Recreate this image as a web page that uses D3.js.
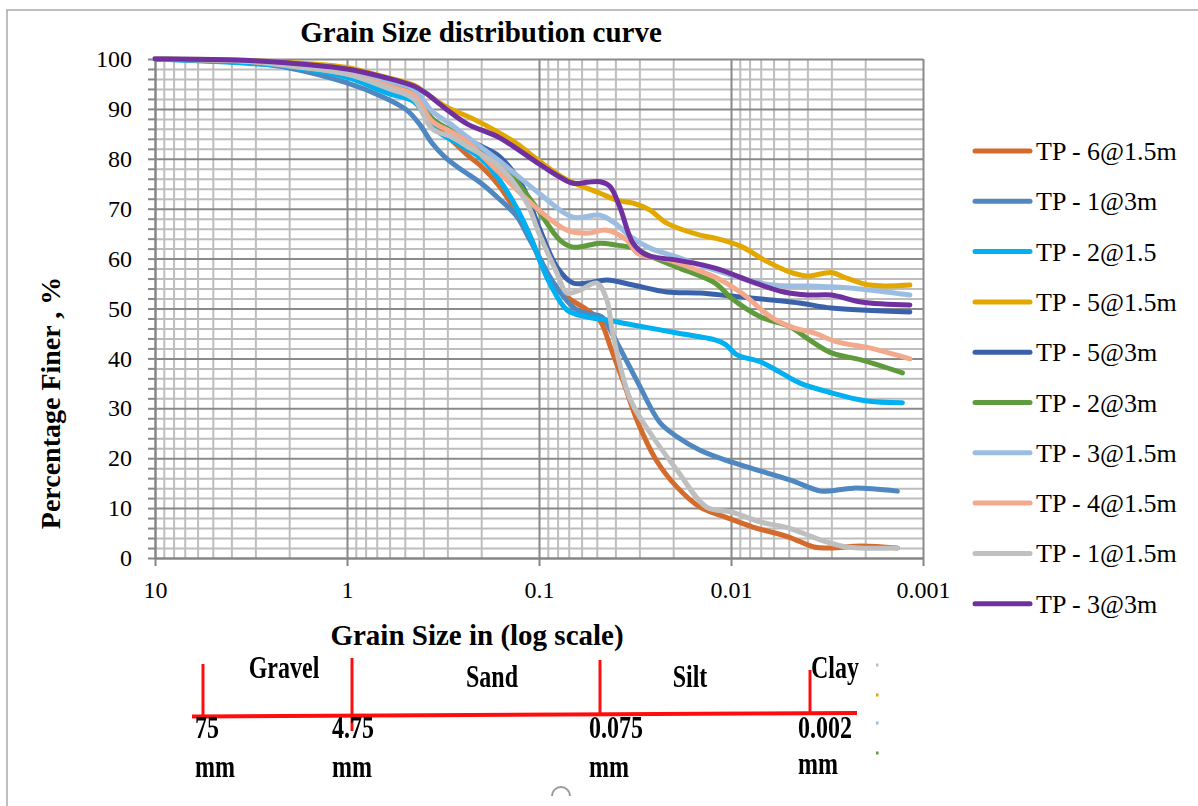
<!DOCTYPE html>
<html>
<head>
<meta charset="utf-8">
<script src="https://cdn.jsdelivr.net/npm/d3@7"></script>
<style>
  html, body { margin: 0; padding: 0; background: #fff; }
  svg { display: block; }
  text { font-family: "Liberation Serif", "Times New Roman", serif; fill: #000; }
</style>
</head>
<body>
<svg id="chart" width="1198" height="806"></svg>
<script>
// ---- Sieve + hydrometer results: [grain size (mm), percent finer] ----
const tp6_15 = [[10,100],[5,99.8],[3.2,99.5],[2,98.6],[1,96.8],[0.65,94.5],[0.45,92],[0.36,87],[0.3,84.5],[0.24,81],[0.2,78.5],[0.16,74.4],[0.13,69],[0.115,65.7],[0.1,60],[0.085,55],[0.0715,52.3],[0.056,49.7],[0.048,47.5],[0.0422,42],[0.0365,35.5],[0.0305,27.1],[0.0245,19.6],[0.0191,14.2],[0.0145,10.2],[0.0107,8.2],[0.0077,6.2],[0.005,4.2],[0.0037,2.2],[0.003,2.0],[0.0021,2.4],[0.00136,2.0]];
const tp1_3 = [[10,100],[5,99.6],[3.2,99.2],[2,98.2],[1,95.2],[0.65,92.4],[0.49,89.8],[0.42,87],[0.36,83.1],[0.31,80.4],[0.26,78.1],[0.2,75.1],[0.166,72.4],[0.13,68.4],[0.114,64.4],[0.1,60.4],[0.088,56.4],[0.075,52.5],[0.065,50],[0.056,49],[0.047,48.3],[0.041,44.5],[0.0305,35.1],[0.0234,27.1],[0.0191,24.3],[0.0145,21.6],[0.0099,19.2],[0.0067,17.2],[0.0049,15.6],[0.0034,13.4],[0.003,13.5],[0.0023,14.0],[0.00136,13.4]];
const tp2_15 = [[10,100],[5,99.5],[3.2,99.1],[2,98.5],[1,96.3],[0.6,93],[0.45,91.5],[0.39,88.5],[0.34,85.6],[0.26,82.9],[0.2,80],[0.166,76.5],[0.13,70],[0.107,63],[0.1,60],[0.088,55.1],[0.0715,49.7],[0.056,48.3],[0.0443,47.7],[0.0324,46.7],[0.0191,45.1],[0.0121,43.7],[0.0107,42.8],[0.0093,40.7],[0.007,39.3],[0.0056,37.3],[0.0044,35.1],[0.003,33.1],[0.002,31.5],[0.00128,31.1]];
const tp5_15 = [[10,100],[5,99.9],[3.2,99.7],[2,99.3],[1,98.3],[0.65,96.5],[0.45,94.8],[0.39,93.2],[0.31,90.6],[0.22,88],[0.166,85.5],[0.13,83],[0.1,79.6],[0.0715,75.8],[0.048,73.1],[0.0393,71.7],[0.0324,71.1],[0.0264,69.7],[0.0216,67.1],[0.0145,64.7],[0.0121,64.1],[0.0088,62.4],[0.0067,59.7],[0.005,57.4],[0.004,56.5],[0.003,57.2],[0.0025,56.1],[0.0019,54.7],[0.00117,54.7]];
const tp5_3 = [[10,100],[5,99.8],[3.2,99.5],[2,98.8],[1,97.3],[0.6,94.5],[0.45,93],[0.36,88],[0.3,86],[0.24,84],[0.2,82.5],[0.16,80.4],[0.1215,74.4],[0.1,66.3],[0.0806,58.3],[0.0665,55.1],[0.0562,55.1],[0.0443,55.7],[0.0324,54.7],[0.0216,53.3],[0.0145,53.1],[0.01,52.5],[0.0044,51.1],[0.003,50.1],[0.00117,49.3]];
const tp2_3 = [[10,100],[5,99.8],[3.2,99.5],[2,98.8],[1,97.3],[0.6,94.8],[0.45,93.2],[0.36,88],[0.29,85.8],[0.24,84],[0.16,79.2],[0.107,71.1],[0.0778,63.7],[0.0665,62.3],[0.0481,63.1],[0.0393,62.7],[0.0324,62.1],[0.0264,60.5],[0.0191,58.3],[0.0121,55.1],[0.0099,52],[0.007,48.3],[0.0049,46.3],[0.0039,43.7],[0.003,41.1],[0.0021,39.7],[0.00128,37.1]];
const tp3_15 = [[10,100],[5,99.9],[3.2,99.6],[2,99],[1,97.6],[0.6,95.5],[0.45,94],[0.36,89.5],[0.29,87],[0.237,84.4],[0.16,79.5],[0.1,73.1],[0.0665,68.3],[0.0481,68.7],[0.0402,67.1],[0.0334,64.4],[0.0264,62.1],[0.0191,60.3],[0.0121,57.7],[0.0088,56.1],[0.0061,54.7],[0.0039,54.5],[0.0024,54.1],[0.00117,52.7]];
const tp4_15 = [[10,100],[5,99.8],[3.2,99.5],[2,98.7],[1,97],[0.6,94.5],[0.45,92.8],[0.36,87.5],[0.29,85.5],[0.237,83.4],[0.16,77.1],[0.1,69.7],[0.0715,65.7],[0.0562,65.1],[0.0443,65.7],[0.0349,63.7],[0.0305,61],[0.0216,59.8],[0.0145,57.5],[0.0121,56.3],[0.0088,53.1],[0.0061,48.1],[0.0047,46.1],[0.0037,45.1],[0.0028,43.3],[0.0019,42.1],[0.00117,39.9]];
const tp1_15 = [[10,100],[5,99.8],[3.2,99.5],[2,98.6],[1,97],[0.6,94],[0.45,92],[0.36,86],[0.29,84.5],[0.237,82.5],[0.16,78.4],[0.1155,71.1],[0.1,65.1],[0.0806,57.1],[0.0715,53.1],[0.0611,53.7],[0.0499,55.1],[0.0443,51.7],[0.0413,45],[0.0334,31.7],[0.0264,25.1],[0.0191,17.6],[0.0134,10.2],[0.0099,9.2],[0.007,7.2],[0.005,6.0],[0.0034,3.6],[0.0025,2.2],[0.00136,2.0]];
const tp3_3 = [[10,100],[5,99.9],[3.2,99.7],[2,99.2],[1,98],[0.65,96.4],[0.45,94.6],[0.39,93.2],[0.31,90.2],[0.237,87],[0.166,84.5],[0.13,82],[0.1,79],[0.0665,75.1],[0.0562,75.3],[0.0481,75.4],[0.0428,74.5],[0.0379,70.3],[0.0324,63.1],[0.0275,60.7],[0.0191,59.7],[0.0121,58.1],[0.0077,55.3],[0.0053,53.3],[0.004,52.7],[0.003,52.7],[0.0021,51.3],[0.00117,50.7]];

const seriesNames = ["TP - 6@1.5m","TP - 1@3m","TP - 2@1.5","TP - 5@1.5m","TP - 5@3m","TP - 2@3m","TP - 3@1.5m","TP - 4@1.5m","TP - 1@1.5m","TP - 3@3m"];
const seriesData = [tp6_15, tp1_3, tp2_15, tp5_15, tp5_3, tp2_3, tp3_15, tp4_15, tp1_15, tp3_3];
const seriesColors = ["#d46b2c","#4f88c0","#00b0f0","#e3a800","#3a62aa","#5f9b3c","#9cbde2","#f2a98c","#bfbfbf","#7030a0"];

const pctTicks = [0,10,20,30,40,50,60,70,80,90,100];
const sizeTicks = [10,1,0.1,0.01,0.001];
const sizeTickLabels = ["10","1","0.1","0.01","0.001"];

// Soil classification strip below the chart
const classBoundaryLabels = ["75", "4.75", "0.075", "0.002"];
const classNames = ["Gravel", "Sand", "Silt", "Clay"];

// ---- Layout ----
const W = 1198, H = 806;
const plot = { left: 155, right: 923, top: 59, bottom: 558 };
const svg = d3.select("#chart");

const x = d3.scaleLog().domain([10, 0.001]).range([plot.left, plot.right]);
const y = d3.scaleLinear().domain([0, 100]).range([plot.bottom, plot.top]);

// outer frame
svg.append("path")
  .attr("d", `M7,${H}V10H${W}`)
  .attr("fill", "none").attr("stroke", "#a9a9a9").attr("stroke-width", 1.5);

// ---- Gridlines ----
const minorSizes = [];
[-3, -2, -1, 0].forEach(k => {
  for (let m = 2; m <= 9; m++) minorSizes.push(+(m * Math.pow(10, k)).toPrecision(3));
});
const minorPct = d3.range(2, 100, 2).filter(v => v % 10 !== 0);
const plotH = plot.bottom - plot.top, plotW = plot.right - plot.left;

function gridX(values, color) {
  const g = svg.append("g").attr("transform", `translate(0,${plot.bottom})`)
    .call(d3.axisBottom(x).tickValues(values).tickSize(-plotH).tickFormat(""));
  g.select(".domain").remove();
  g.selectAll("line").attr("stroke", color).attr("stroke-width", 2);
}
function gridY(values, color) {
  const g = svg.append("g").attr("transform", `translate(${plot.left},0)`)
    .call(d3.axisLeft(y).tickValues(values).tickSize(-plotW).tickFormat(""));
  g.select(".domain").remove();
  g.selectAll("line").attr("stroke", color).attr("stroke-width", 2);
}
gridX(minorSizes, "#bdbdbd");
gridY(minorPct, "#bdbdbd");
gridX(sizeTicks, "#8a8a8a");
gridY(pctTicks, "#8a8a8a");

// ---- Axes ----
const yAxis = svg.append("g").attr("transform", `translate(${plot.left},0)`)
  .call(d3.axisLeft(y).tickValues(d3.range(0, 101, 2)).tickSize(7).tickSizeOuter(0).tickPadding(16)
    .tickFormat(d => d % 10 === 0 ? String(d) : ""));
yAxis.select(".domain").attr("stroke", "#868686").attr("stroke-width", 2);
yAxis.selectAll("line").attr("stroke", "#868686").attr("stroke-width", 2);
yAxis.selectAll("text").attr("font-size", 24).attr("fill", "#000")
  .style("font-family", "'Liberation Serif', serif");

const xAxis = svg.append("g").attr("transform", `translate(0,${plot.bottom})`)
  .call(d3.axisBottom(x).tickValues(sizeTicks).tickSize(8).tickSizeOuter(0).tickPadding(15)
    .tickFormat((d, i) => sizeTickLabels[i]));
xAxis.select(".domain").attr("stroke", "#868686").attr("stroke-width", 2);
xAxis.selectAll("line").attr("stroke", "#868686").attr("stroke-width", 2);
xAxis.selectAll("text").attr("font-size", 24).attr("fill", "#000")
  .style("font-family", "'Liberation Serif', serif");

// ---- Curves ----
const line = d3.line()
  .x(d => x(d[0]))
  .y(d => y(d[1]))
  .curve(d3.curveCatmullRom.alpha(0.5));

svg.append("g").selectAll("path")
  .data(seriesData)
  .join("path")
  .attr("d", line)
  .attr("fill", "none")
  .attr("stroke", (d, i) => seriesColors[i])
  .attr("stroke-width", 5)
  .attr("stroke-linecap", "round")
  .attr("stroke-linejoin", "round");

// ---- Titles ----
svg.append("text")
  .attr("x", 481).attr("y", 42)
  .attr("text-anchor", "middle")
  .attr("font-size", 29).attr("font-weight", "bold")
  .text("Grain Size distribution curve");

svg.append("text")
  .attr("x", 477).attr("y", 645)
  .attr("text-anchor", "middle")
  .attr("font-size", 29).attr("font-weight", "bold")
  .text("Grain Size in (log scale)");

svg.append("text")
  .attr("transform", "translate(60,403) rotate(-90)")
  .attr("text-anchor", "middle")
  .attr("font-size", 28).attr("font-weight", "bold")
  .text("Percentage Finer , %");

// ---- Legend ----
const legend = svg.append("g");
const legendItems = legend.selectAll("g")
  .data(seriesNames)
  .join("g")
  .attr("transform", (d, i) => `translate(975,${151 + i * 50.3})`);
legendItems.append("line")
  .attr("x1", 0).attr("x2", 55).attr("y1", 0).attr("y2", 0)
  .attr("stroke", (d, i) => seriesColors[i])
  .attr("stroke-width", 5)
  .attr("stroke-linecap", "round");
legendItems.append("text")
  .attr("x", 61).attr("y", 9)
  .attr("font-size", 26)
  .text(d => d);

// ---- Soil classification strip ----
const defs = svg.append("defs");
defs.append("filter").attr("id", "soft")
  .append("feGaussianBlur").attr("stdDeviation", 0.7);

const strip = svg.append("g").attr("filter", "url(#soft)");
strip.append("line")
  .attr("x1", 192).attr("y1", 716.5).attr("x2", 857).attr("y2", 713)
  .attr("stroke", "#ff1010").attr("stroke-width", 4);

const boundaryX = [203, 352, 600, 810];
const boundaryTop = [664, 658, 660, 670];
const boundaryBottom = [716, 731, 716, 713];
strip.selectAll("line.bound")
  .data(classBoundaryLabels)
  .join("line")
  .attr("class", "bound")
  .attr("x1", (d, i) => boundaryX[i]).attr("x2", (d, i) => boundaryX[i])
  .attr("y1", (d, i) => boundaryTop[i]).attr("y2", (d, i) => boundaryBottom[i])
  .attr("stroke", "#ff1010").attr("stroke-width", 3);

function stretchedText(g, str, tx, ty, anchor) {
  g.append("text")
    .attr("transform", `translate(${tx},${ty}) scale(1,1.28)`)
    .attr("text-anchor", anchor || "start")
    .attr("font-size", 24).attr("font-weight", "bold")
    .attr("fill", "#1e1e1e")
    .text(str);
}
const nameX = [284, 492, 690, 811];
const nameY = [678, 687, 687, 678];
const nameAnchor = ["middle", "middle", "middle", "start"];
classNames.forEach((n, i) => stretchedText(strip, n, nameX[i], nameY[i], nameAnchor[i]));

const valueX = [195, 332, 589, 798];
classBoundaryLabels.forEach((v, i) => {
  stretchedText(strip, v, valueX[i], 738);
  stretchedText(strip, "mm", valueX[i], i === 3 ? 774 : 777);
});

// faint leftovers along the right edge of the strip
const dotColors = ["#bfbfbf", "#e3a800", "#9cbde2", "#5f9b3c"];
const dotY = [665, 695, 723, 753];
svg.append("g").attr("filter", "url(#soft)").selectAll("rect")
  .data(dotColors)
  .join("rect")
  .attr("x", 876).attr("y", (d, i) => dotY[i] - 1.5)
  .attr("width", 2.5).attr("height", 3)
  .attr("fill", d => d);

svg.append("path")
  .attr("d", "M552,796 A9,9 0 0 1 570,796")
  .attr("fill", "none").attr("stroke", "#9a9a9a").attr("stroke-width", 2)
  .attr("filter", "url(#soft)");
</script>
</body>
</html>
